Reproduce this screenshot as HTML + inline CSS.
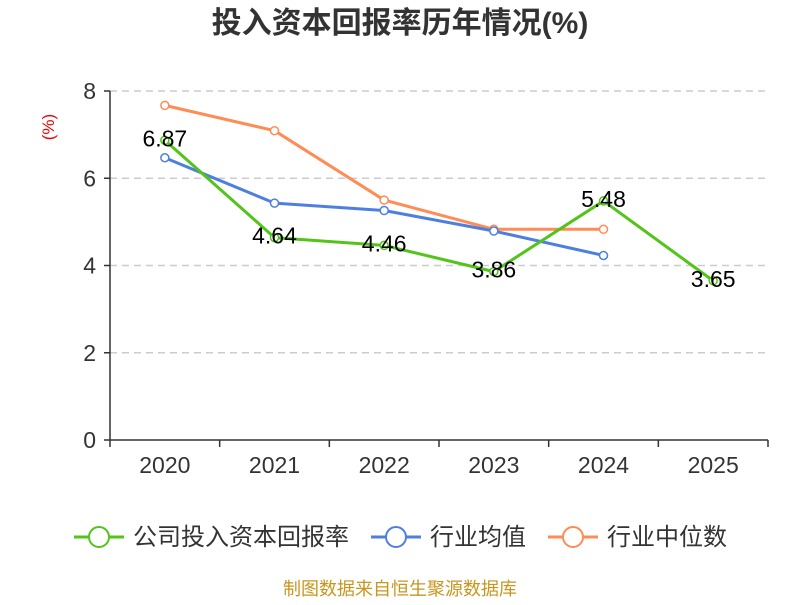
<!DOCTYPE html>
<html><head><meta charset="utf-8"><style>
body{margin:0;background:#fff;width:800px;height:600px;overflow:hidden;font-family:"Liberation Sans","Noto Sans CJK SC",sans-serif}
</style></head><body>
<svg width="800" height="600" xmlns="http://www.w3.org/2000/svg">
<text x="400" y="33" text-anchor="middle" font-size="30" font-weight="bold" fill="#333" font-family="Liberation Sans, Noto Sans CJK SC, sans-serif">投入资本回报率历年情况(%)</text>
<text x="54" y="127" fill="#e00" font-size="17" text-anchor="middle" transform="rotate(-90 54 127)">(%)</text>
<g id="grid"></g><g id="axes"></g><g id="series"></g><g id="labels"></g>
<g font-size="24" fill="#333" font-family="Liberation Sans, Noto Sans CJK SC, sans-serif">
 <g><line x1="74" y1="537" x2="124" y2="537" stroke="#52c41a" stroke-width="3"/><circle cx="99" cy="537" r="10" fill="#fff" stroke="#52c41a" stroke-width="2"/><text x="133" y="545">公司投入资本回报率</text></g>
 <g><line x1="371" y1="537" x2="421" y2="537" stroke="#4e7fe0" stroke-width="3"/><circle cx="396" cy="537" r="10" fill="#fff" stroke="#4e7fe0" stroke-width="2"/><text x="430" y="545">行业均值</text></g>
 <g><line x1="548" y1="537" x2="598" y2="537" stroke="#ff8c55" stroke-width="3"/><circle cx="573" cy="537" r="10" fill="#fff" stroke="#ff8c55" stroke-width="2"/><text x="607" y="545">行业中位数</text></g>
</g>
<text x="400" y="595" text-anchor="middle" font-size="18" fill="#c8961e">制图数据来自恒生聚源数据库</text>
</svg>
<script>
const categories=["2020","2021","2022","2023","2024","2025"];
const company=[6.87,4.64,4.46,3.86,5.48,3.65];
const industryAvg=[6.47,5.43,5.26,4.79,4.23];
const industryMedian=[7.67,7.09,5.50,4.83,4.83];
const yTicks=[0,2,4,6,8];
const NS="http://www.w3.org/2000/svg";
const x0=110,x1=768,y0=440,y1=91;
const step=(x1-x0)/categories.length;
const xs=i=>x0+step*(i+0.5);
const ys=v=>y0-(v/8)*(y0-y1);
function mk(tag,attrs,parent,txt){const e=document.createElementNS(NS,tag);for(const k in attrs)e.setAttribute(k,attrs[k]);if(txt!==undefined)e.textContent=txt;document.getElementById(parent).appendChild(e);return e;}
yTicks.forEach(t=>{
 if(t>0){const g=mk('line',{x1:x0,x2:x1,y1:ys(t),y2:ys(t),stroke:'#ccc','stroke-width':1.5,'stroke-dasharray':'7,5'},'grid');
 
 }
 const tk=mk('line',{x1:x0-6,x2:x0,y1:ys(t),y2:ys(t),stroke:'#333','stroke-width':1.5},'axes');
 
 
 const l=mk('text',{x:x0-14,y:ys(t)+8,'text-anchor':'end','font-size':23,fill:'#333'},'axes',t);
 
 
});
let a=mk('line',{x1:x0,x2:x0,y1:y1,y2:y0,stroke:'#333','stroke-width':1.5},'axes');


a=mk('line',{x1:x0,x2:x1,y1:y0,y2:y0,stroke:'#333','stroke-width':1.5},'axes');


for(let i=0;i<=categories.length;i++){const t=mk('line',{x1:x0+step*i,x2:x0+step*i,y1:y0,y2:y0+7,stroke:'#333','stroke-width':1.5},'axes');
 
 }
categories.forEach((c,i)=>{const t=mk('text',{x:xs(i),y:y0+33,'text-anchor':'middle','font-size':23,fill:'#333'},'axes',c);
 
 });
function series(vals,color,name){
 const pts=vals.map((v,i)=>xs(i)+','+ys(v)).join(' ');
 const p=mk('polyline',{points:pts,fill:'none',stroke:color,'stroke-width':3,'stroke-linejoin':'round'},'series');
 
 
 vals.forEach((v,i)=>{const c=mk('circle',{cx:xs(i),cy:ys(v),r:4,fill:'#fff',stroke:color,'stroke-width':1.5},'series');
  
  });
}
series(industryMedian,'#ff8c55','industry-median');
series(industryAvg,'#4e7fe0','industry-avg');
series(company,'#52c41a','company');
company.forEach((v,i)=>{const t=mk('text',{x:xs(i),y:ys(v)+6,'text-anchor':'middle','font-size':23,fill:'#000'},'labels',v.toFixed(2));
 
 });
</script>
</body></html>
